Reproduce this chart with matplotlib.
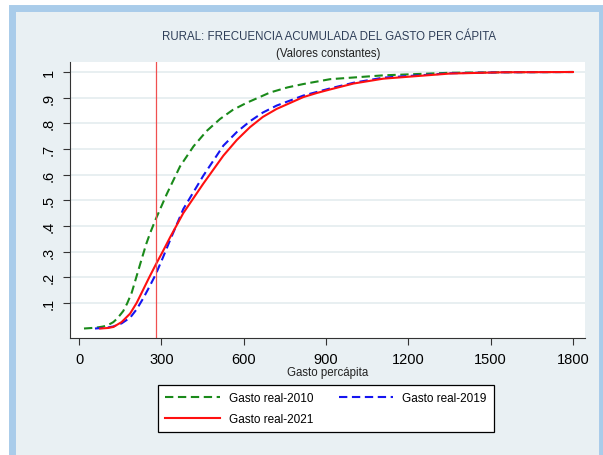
import numpy as np
import matplotlib
matplotlib.use("Agg")
import matplotlib.pyplot as plt
from matplotlib.patches import Rectangle

plt.rcParams['font.family'] = ['Liberation Sans', 'DejaVu Sans']

# values (cumulative share by real spending per capita)
x_2010 = [18, 60, 89, 110, 125, 140, 161, 175, 192, 210, 228, 245, 259, 279, 320, 368, 417, 465, 514, 560, 611, 696, 760, 817, 915, 1109, 1352, 1550, 1800]
y_2010 = [0, 0.003, 0.008, 0.016, 0.025, 0.04, 0.068, 0.097, 0.14, 0.205, 0.27, 0.33, 0.372, 0.425, 0.525, 0.632, 0.71, 0.77, 0.817, 0.852, 0.88, 0.92, 0.94, 0.953, 0.972, 0.987, 0.997, 0.999, 1.0]
x_2019 = [58, 100, 125, 155, 186, 210, 234, 256, 279, 305, 332, 380, 453, 526, 575, 623, 670, 720, 817, 915, 1000, 1109, 1352, 1550, 1800]
y_2019 = [0, 0.003, 0.008, 0.02, 0.042, 0.075, 0.118, 0.162, 0.21, 0.275, 0.345, 0.466, 0.596, 0.713, 0.766, 0.808, 0.842, 0.869, 0.908, 0.936, 0.958, 0.978, 0.995, 0.999, 1.0]
x_2021 = [77, 105, 125, 155, 186, 210, 234, 256, 279, 305, 332, 380, 453, 526, 575, 623, 670, 720, 817, 866, 915, 1000, 1109, 1352, 1550, 1800]
y_2021 = [0, 0.002, 0.006, 0.025, 0.058, 0.1, 0.152, 0.2, 0.248, 0.3, 0.356, 0.45, 0.565, 0.674, 0.735, 0.785, 0.825, 0.856, 0.902, 0.918, 0.932, 0.955, 0.974, 0.994, 0.999, 1.0]
linea_pobreza = 279

x_ticks = [0, 300, 600, 900, 1200, 1500, 1800]
y_ticks = [0.1, 0.2, 0.3, 0.4, 0.5, 0.6, 0.7, 0.8, 0.9, 1.0]
y_labels = [".1", ".2", ".3", ".4", ".5", ".6", ".7", ".8", ".9", "1"]

W, H = 603, 456
panel = "#E9F0F3"
fig = plt.figure(figsize=(W/100, H/100), dpi=100, facecolor="white")
fig.patches.append(Rectangle((11.5/W, -0.05), (602-11.5)/W, 1.05-8.5/H, transform=fig.transFigure,
                             facecolor=panel, edgecolor="#A9CCEA", lw=5, zorder=-10))

ax = fig.add_axes([70/W, 1-339/H, (585-70)/W, (339-63)/H])
ax.set_facecolor("white")
l10, = ax.plot(x_2010, y_2010, color="#1A8A1A", lw=1.5, dashes=(4, 2.2), label="Gasto real-2010")
l19, = ax.plot(x_2019, y_2019, color="#1515F0", lw=1.5, dashes=(4, 2.2), label="Gasto real-2019")
l21, = ax.plot(x_2021, y_2021, color="#FF1010", lw=1.5, label="Gasto real-2021")
ax.axvline(linea_pobreza, color="#F05050", lw=0.9)

ax.set_xlim(-33, 1844)
ax.set_ylim(-0.037, 1.039)
ax.set_xticks(x_ticks)
ax.set_yticks(y_ticks, y_labels)
ax.grid(axis="y", color="#E4ECEF", lw=1.2)
ax.set_axisbelow(True)
for s in ["top", "right"]:
    ax.spines[s].set_visible(False)
for s in ["left", "bottom"]:
    ax.spines[s].set_color("#333333")
    ax.spines[s].set_linewidth(0.8)
ax.tick_params(axis="x", labelsize=10.5, length=5, width=0.8, color="#333333", pad=5)
ax.tick_params(axis="y", labelsize=10.5, length=5, width=0.8, color="#333333", pad=5)
for lbl in ax.get_yticklabels():
    lbl.set_rotation(90)
    lbl.set_va("center")

fig.text(0.5464, 1-36.7/H, "RURAL: FRECUENCIA ACUMULADA DEL GASTO PER CÁPITA", ha="center", va="center",
         fontsize=8.3, color="#2E3E58")
fig.text(0.544, 1-54.3/H, "(Valores constantes)", ha="center", va="center", fontsize=8.3, color="#222222")
fig.text(328/W, 1-373/H, "Gasto percápita", ha="center", va="center", fontsize=8.3, color="#222222")

# matplotlib fills legend columns first, so order 2010, 2021 | 2019
leg = fig.legend([l10, l21, l19], ["Gasto real-2010", "Gasto real-2021", "Gasto real-2019"], ncol=2,
                 loc="upper center", bbox_to_anchor=(326/W, 1-386/H), fontsize=8.5, frameon=True,
                 fancybox=False, edgecolor="black", framealpha=1, handlelength=4.6, handletextpad=0.75,
                 columnspacing=2.2, labelspacing=0.75, borderpad=0.6, borderaxespad=0)
leg.get_frame().set_linewidth(0.9)

fig.savefig("out.png", dpi=100, facecolor=fig.get_facecolor())
